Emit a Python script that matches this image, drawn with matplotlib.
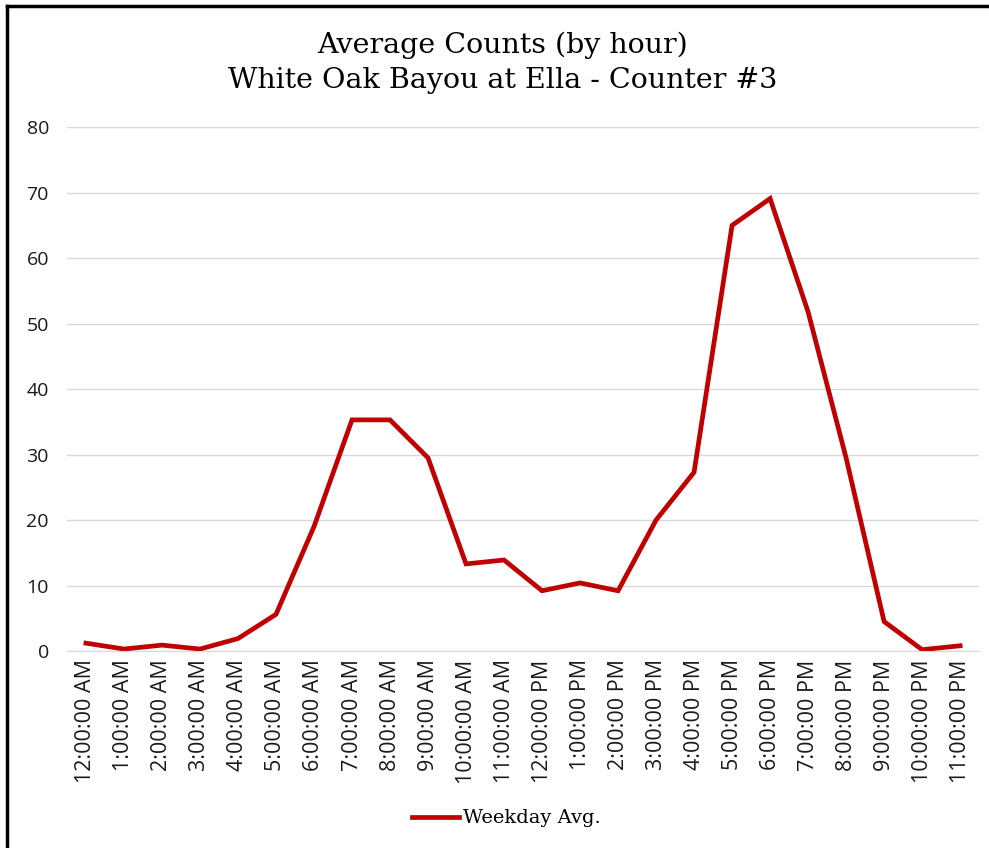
import numpy as np
import matplotlib
matplotlib.use("Agg")
import matplotlib.pyplot as plt
from matplotlib.lines import Line2D

# hourly labels and weekday averages
hours = ["12:00:00 AM", "1:00:00 AM", "2:00:00 AM", "3:00:00 AM", "4:00:00 AM",
         "5:00:00 AM", "6:00:00 AM", "7:00:00 AM", "8:00:00 AM", "9:00:00 AM",
         "10:00:00 AM", "11:00:00 AM", "12:00:00 PM", "1:00:00 PM", "2:00:00 PM",
         "3:00:00 PM", "4:00:00 PM", "5:00:00 PM", "6:00:00 PM", "7:00:00 PM",
         "8:00:00 PM", "9:00:00 PM", "10:00:00 PM", "11:00:00 PM"]
weekday_avg = [1.2, 0.3, 0.9, 0.3, 1.9, 5.6, 19.0, 35.3, 35.3, 29.5,
               13.3, 13.9, 9.2, 10.4, 9.2, 20.0, 27.3, 65.0, 69.1, 51.8,
               29.5, 4.5, 0.2, 0.8]
y_ticks = [0, 10, 20, 30, 40, 50, 60, 70, 80]

title_lines = ["Average Counts (by hour)", "White Oak Bayou at Ella - Counter #3"]
series_name = "Weekday Avg."

red = "#c00000"
txt = "#1a1a1a"

fig = plt.figure(figsize=(9.89, 8.48), dpi=100)
ax = fig.add_axes([0.0677, 0.2323, 0.9223, 0.6177])

x = np.arange(len(hours))
ax.plot(x, weekday_avg, color=red, lw=3.4, solid_joinstyle="miter")

ax.set_xlim(-0.5, len(hours) - 0.5)
ax.set_ylim(0, 80)
ax.set_yticks(y_ticks)
ax.set_xticks(x)
ax.set_xticklabels(hours, rotation=90, fontsize=15.5, family="Open Sans", color=txt)
ax.set_yticklabels([str(v) for v in y_ticks], fontsize=14, family="Open Sans", color=txt)
ax.tick_params(length=0)
ax.tick_params(axis="x", pad=6)
ax.tick_params(axis="y", pad=13)

ax.grid(axis="y", color="#d9d9d9", lw=1)
ax.set_axisbelow(True)
for s in ["top", "right", "left"]:
    ax.spines[s].set_visible(False)
ax.spines["bottom"].set_color("#d9d9d9")

# title, two lines
fig.text(0.508, 0.946, title_lines[0], ha="center", va="center",
         fontsize=20.5, family="DejaVu Serif", color="black")
fig.text(0.508, 0.905, title_lines[1], ha="center", va="center",
         fontsize=20.5, family="DejaVu Serif", color="black")

# legend at the bottom
handle = Line2D([], [], color=red, lw=3.4)
fig.legend([handle], [series_name], loc="center", bbox_to_anchor=(0.512, 0.035),
           frameon=False, handlelength=2.4, handletextpad=0.2,
           prop={"family": "DejaVu Serif", "size": 14})

# frame visible on left and top only
fig.add_artist(Line2D([0.007, 0.007], [0.0, 0.993], color="black", lw=2.5,
                      transform=fig.transFigure))
fig.add_artist(Line2D([0.007, 1.0], [0.993, 0.993], color="black", lw=2.5,
                      transform=fig.transFigure))

fig.savefig("out.png", dpi=100)
